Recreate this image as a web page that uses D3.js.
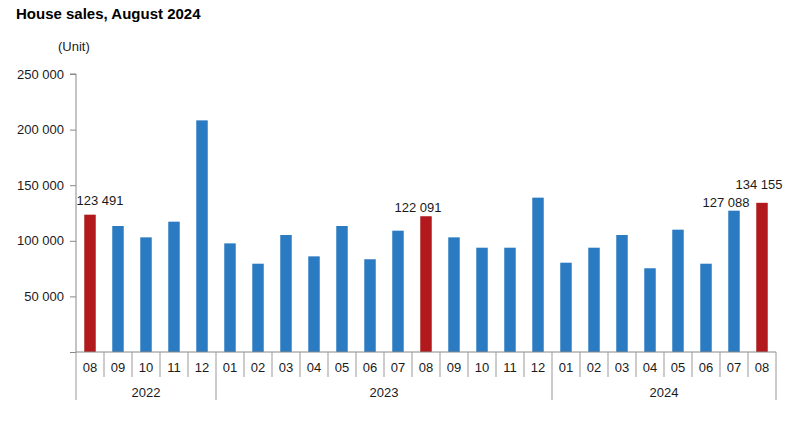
<!DOCTYPE html>
<html><head><meta charset="utf-8">
<script src="https://cdn.jsdelivr.net/npm/d3@7"></script>
<style>body{margin:0;background:#fff;} svg{display:block;font-family:"Liberation Sans",Arial,sans-serif;}</style>
</head><body>
<svg id="c" width="800" height="427"></svg>
<script>
const months = ["08","09","10","11","12","01","02","03","04","05","06","07","08","09","10","11","12","01","02","03","04","05","06","07","08"];
const years = ["2022","2023","2024"];
const yearSpans = [[0,4],[5,16],[17,24]];
const sales = [123491,113300,103100,117200,208300,97700,79400,105200,86000,113300,83400,109100,122091,103100,93800,93800,138800,80300,93800,105200,75300,110000,79400,127088,134155];
const highlighted = [0,12,24];
const labelIdx = [0,12,23,24];
const yTicks = [0,50000,100000,150000,200000,250000];
// label placement tweaks (style, not data)
const labelOffsets = [[10,-9.5],[-8,-4.5],[-8,-3.8],[-3,-13.5]];

const svg = d3.select("#c");
const x = d3.scaleBand().domain(d3.range(sales.length)).range([76,776]).paddingInner(0.59).paddingOuter(0.295);
const y = d3.scaleLinear().domain([0,250000]).range([352,74]);
const fmt = v => d3.format(",")(v).replace(/,/g," ");
const step = x.step();
const x0 = 76;

svg.append("text").attr("x",16).attr("y",19).attr("font-size",15).attr("font-weight","bold").attr("fill","#000").text("House sales, August 2024");
svg.append("text").attr("x",58).attr("y",51).attr("font-size",13).attr("fill","#222").text("(Unit)");

// y axis
const ya = svg.append("g").attr("transform","translate(76,0)")
  .call(d3.axisLeft(y).tickValues(yTicks).tickSize(6).tickPadding(6).tickFormat(d=>d===0?"":fmt(d)));
ya.select(".domain").attr("stroke","#888").attr("d","M-6,"+y(250000)+"H0V"+y(0));
ya.selectAll(".tick line").attr("stroke","#888");
ya.selectAll(".tick text").attr("font-size",13).attr("fill","#1a1a1a").attr("font-family","Liberation Sans, Arial, sans-serif");

// bars
svg.append("g").selectAll("rect").data(sales).join("rect")
  .attr("x",(d,i)=>x(i)).attr("width",x.bandwidth())
  .attr("y",d=>y(d)).attr("height",d=>y(0)-y(d))
  .attr("fill",(d,i)=>highlighted.includes(i)?"#b1191c":"#2a7bc1");

// value labels
svg.append("g").selectAll("text").data(labelIdx).join("text")
  .attr("x",(d,k)=>x(d)+x.bandwidth()/2+labelOffsets[k][0])
  .attr("y",(d,k)=>y(sales[d])+labelOffsets[k][1])
  .attr("text-anchor","middle").attr("font-size",13).attr("fill","#1a1a1a")
  .text(d=>fmt(sales[d]));

// x axis
const g = svg.append("g");
g.append("line").attr("x1",76).attr("x2",776).attr("y1",y(0)).attr("y2",y(0)).attr("stroke","#888");
const yearStarts = yearSpans.map(s=>s[0]);
for(let i=0;i<=sales.length;i++){
  const xx = x0 + i*step;
  const isYear = i===sales.length || yearStarts.includes(i);
  g.append("line").attr("x1",xx).attr("x2",xx).attr("y1",y(0)).attr("y2",isYear?400:377).attr("stroke","#999");
}
g.selectAll("text.m").data(months).join("text").attr("class","m")
  .attr("x",(d,i)=>x(i)+x.bandwidth()/2).attr("y",372).attr("text-anchor","middle")
  .attr("font-size",13).attr("fill","#1a1a1a").text(d=>d);
g.selectAll("text.yr").data(years).join("text").attr("class","yr")
  .attr("x",(d,i)=>x0+step*(yearSpans[i][0]+yearSpans[i][1]+1)/2).attr("y",397).attr("text-anchor","middle")
  .attr("font-size",13).attr("fill","#1a1a1a").text(d=>d);
</script>
</body></html>
